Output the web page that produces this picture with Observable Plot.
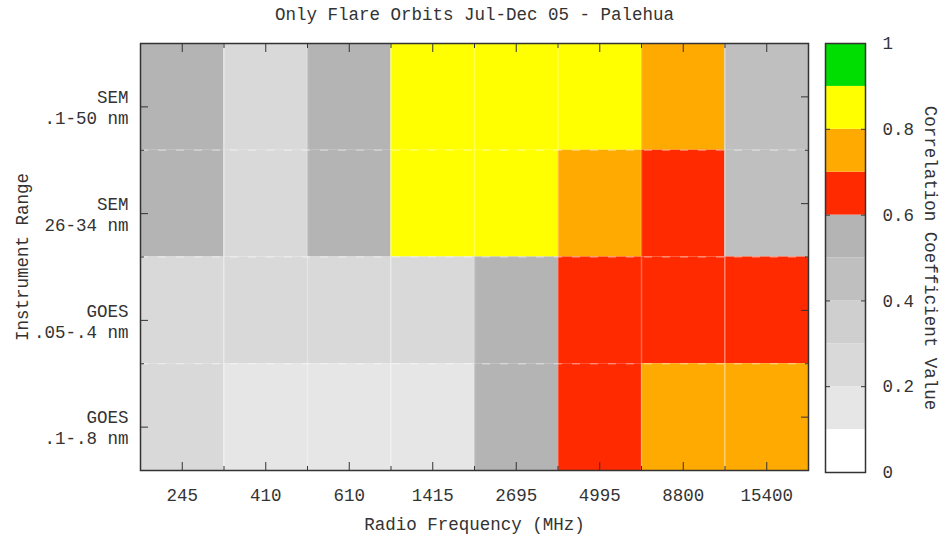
<!DOCTYPE html>
<html><head><meta charset="utf-8">
<script src="https://cdn.jsdelivr.net/npm/d3@7"></script>
<script src="https://cdn.jsdelivr.net/npm/@observablehq/plot@0.6"></script>
<style>
body{margin:0;background:#fff;}
#wrap{position:relative;width:946px;height:542px;overflow:hidden;}
#wrap svg{position:absolute;left:0;top:0;}
</style></head><body><div id="wrap"></div>
<script>
const title = "Only Flare Orbits Jul-Dec 05 - Palehua";
const xTitle = "Radio Frequency (MHz)";
const yTitle = "Instrument Range";
const colorTitle = "Correlation Coefficient Value";
const frequencies = ["245","410","610","1415","2695","4995","8800","15400"];
const instruments = ["SEM\n.1-50 nm","SEM\n26-34 nm","GOES\n.05-.4 nm","GOES\n.1-.8 nm"];
// correlation values per instrument row (top to bottom), one per frequency
const semWide   = [0.55,0.25,0.55,0.85,0.85,0.85,0.75,0.45];
const semNarrow = [0.55,0.25,0.55,0.85,0.85,0.75,0.65,0.45];
const goesShort = [0.25,0.25,0.25,0.25,0.55,0.65,0.65,0.65];
const goesLong  = [0.25,0.15,0.15,0.15,0.55,0.65,0.75,0.75];
const thresholds = [0.1,0.2,0.3,0.4,0.5,0.6,0.7,0.8,0.9];
const palette = ["#ffffff","#e6e6e6","#d9d9d9","#cfcfcf","#bfbfbf","#b4b4b4","#ff2a00","#ffaa00","#ffff00","#00dd00"];
const colorTicks = [0,0.2,0.4,0.6,0.8,1];

const rows = [semWide, semNarrow, goesShort, goesLong];
const cells = rows.flatMap((vals, r) => vals.map((v, c) => ({col: c, row: r, value: v})));
const colCenters = frequencies.map((f, i) => i + 0.5);
const colEdges = frequencies.slice(1).map((f, i) => i + 1);
const rowCenters = instruments.map((f, i) => i + 0.5);
const rowEdges = instruments.slice(1).map((f, i) => i + 1);
const edges = [0, ...thresholds, 1];
const bins = edges.slice(0, -1).map((lo, i) => ({lo, hi: edges[i + 1]}));

const font = {fontFamily: "'Liberation Mono', 'DejaVu Sans Mono', monospace", fontSize: "17.5px", color: "#333", background: "transparent"};
const colorScale = {type: "threshold", domain: thresholds, range: palette};
const ink = "#333";
const blank = () => "";

const main = Plot.plot({
  width: 946, height: 542,
  marginLeft: 140, marginRight: 138, marginTop: 43, marginBottom: 72,
  style: font,
  x: {domain: [0, 8], axis: null},
  y: {domain: [0, 4], reverse: true, axis: null},
  color: colorScale,
  marks: [
    Plot.rect(cells, {x1: "col", x2: d => d.col + 1, y1: "row", y2: d => d.row + 1, fill: "value"}),
    Plot.ruleX(colEdges, {stroke: "#fff", strokeOpacity: 0.3, strokeWidth: 1.5}),
    Plot.ruleY(rowEdges, {stroke: "#fff", strokeOpacity: 0.35, strokeWidth: 1.5, strokeDasharray: "8,10"}),
    Plot.frame({stroke: ink, strokeWidth: 1.5}),
    Plot.axisX(colCenters, {anchor: "bottom", tickSize: -8, tickPadding: 26, tickFormat: d => frequencies[Math.floor(d)], stroke: ink, fill: ink, label: null}),
    Plot.axisX(colEdges, {anchor: "bottom", tickSize: -4, tickFormat: blank, stroke: ink, label: null}),
    Plot.axisX(colCenters, {anchor: "top", tickSize: -8, tickFormat: blank, stroke: ink, label: null}),
    Plot.axisX(colEdges, {anchor: "top", tickSize: -4, tickFormat: blank, stroke: ink, label: null}),
    Plot.axisY(rowCenters, {anchor: "left", tickSize: -8, tickPadding: 20, dy: 10, tickFormat: d => instruments[Math.floor(d)], stroke: ink, fill: ink, label: null, lineHeight: 1.2}),
    Plot.axisY(rowEdges, {anchor: "left", tickSize: -4, tickFormat: blank, stroke: ink, label: null}),
    Plot.axisY(rowCenters, {anchor: "right", tickSize: -8, tickFormat: blank, stroke: ink, label: null}),
    Plot.axisY(rowEdges, {anchor: "right", tickSize: -4, tickFormat: blank, stroke: ink, label: null}),
    Plot.text([title], {text: d => d, frameAnchor: "top", dy: -29, lineAnchor: "middle", fill: ink}),
    Plot.text([xTitle], {text: d => d, frameAnchor: "bottom", dy: 54, lineAnchor: "middle", fill: ink}),
    Plot.text([yTitle], {text: d => d, frameAnchor: "left", dx: -118, rotate: -90, textAnchor: "middle", lineAnchor: "middle", fill: ink})
  ]
});

const bar = Plot.plot({
  width: 946, height: 542,
  marginLeft: 825, marginRight: 81, marginTop: 43, marginBottom: 70,
  style: font,
  x: {domain: [0, 1], axis: null},
  y: {domain: [0, 1], axis: null},
  color: colorScale,
  marks: [
    Plot.rect(bins, {x1: 0, x2: 1, y1: "lo", y2: "hi", fill: d => (d.lo + d.hi) / 2}),
    Plot.frame({stroke: ink, strokeWidth: 1.5}),
    Plot.axisY(colorTicks, {anchor: "right", tickSize: -5, tickPadding: 22, tickFormat: d => String(d), stroke: ink, fill: ink, label: null}),
    Plot.axisY(colorTicks, {anchor: "left", tickSize: -5, tickFormat: blank, stroke: ink, label: null}),
    Plot.text([colorTitle], {text: d => d, frameAnchor: "right", dx: 65, rotate: 90, textAnchor: "middle", lineAnchor: "middle", fill: ink})
  ]
});

document.getElementById("wrap").append(main, bar);
</script></body></html>
